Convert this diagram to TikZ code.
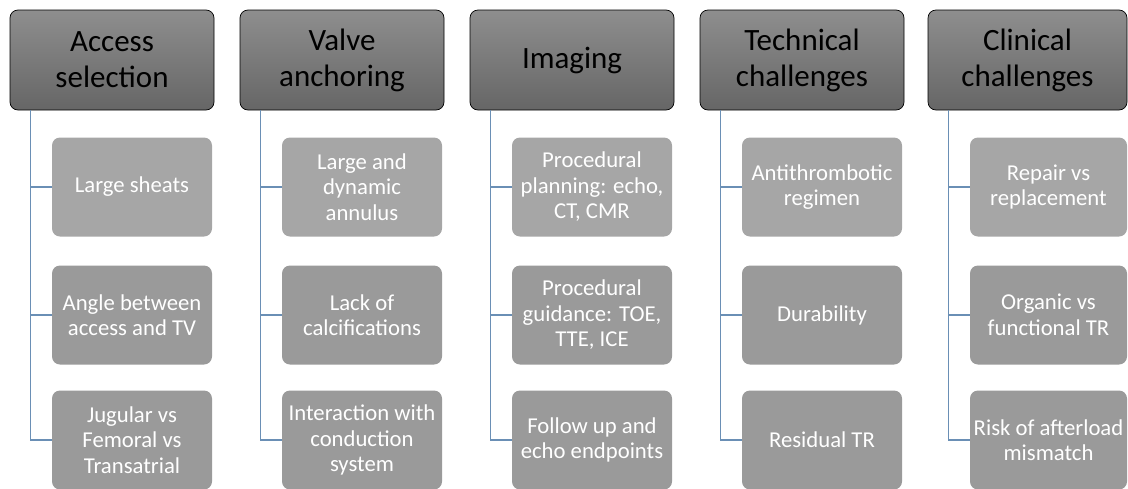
\documentclass[tikz,border=0pt]{standalone}
\usepackage{fontspec}
\setmainfont{Carlito}
\usepackage{xcolor}
\usepackage{tikz}

\definecolor{hdtop}{HTML}{8E8E8E}
\definecolor{hdbot}{HTML}{666666}
\definecolor{itlight}{HTML}{A6A6A6}
\definecolor{itdark}{HTML}{9A9A9A}
\definecolor{lnblue}{HTML}{6A8FB5}

\begin{document}
\begin{tikzpicture}[x=1pt,y=-1pt,
hd/.style={draw=black,line width=0.7pt,rounded corners=8pt,top color=hdtop,bottom color=hdbot,
minimum width=204pt,minimum height=100pt,inner sep=0pt,align=center,text=black,
font=\fontsize{31}{36}\selectfont},
it/.style={fill=itdark,rounded corners=8pt,minimum width=160pt,minimum height=99pt,
inner sep=0pt,align=center,text=white,font=\fontsize{22.7}{25.5}\selectfont},
ln/.style={draw=lnblue,line width=1.1pt}]
\useasboundingbox (0,0) rectangle (1128,488);

% access selection
\node[hd] (a) at (112,60) {Access\\selection};
\node[it,fill=itlight] (a1) at (132,187) {Large sheats};
\node[it] (a2) at (132,315) {Angle between\\access and TV};
\node[it] (a3) at (132,440) {Jugular vs\\Femoral vs\\Transatrial};

% valve anchoring
\node[hd] (b) at (342,60) {Valve\\anchoring};
\node[it,fill=itlight] (b1) at (362,187) {Large and\\dynamic\\annulus};
\node[it] (b2) at (362,315) {Lack of\\calcifications};
\node[it] (b3) at (362,440) {Interaction with\\conduction\\system};

% imaging
\node[hd] (c) at (572,60) {Imaging};
\node[it,fill=itlight] (c1) at (592,187) {Procedural\\planning: echo,\\CT, CMR};
\node[it] (c2) at (592,315) {Procedural\\guidance: TOE,\\TTE, ICE};
\node[it] (c3) at (592,440) {Follow up and\\echo endpoints};

% technical challenges
\node[hd] (d) at (802,60) {Technical\\challenges};
\node[it,fill=itlight] (d1) at (822,187) {Antithrombotic\\regimen};
\node[it] (d2) at (822,315) {Durability};
\node[it] (d3) at (822,440) {Residual TR};

% clinical challenges
\node[hd,minimum width=199pt] (e) at (1027.5,60) {Clinical\\challenges};
\node[it,fill=itlight,minimum width=157pt] (e1) at (1048.5,187) {Repair vs\\replacement};
\node[it,minimum width=157pt] (e2) at (1048.5,315) {Organic vs\\functional TR};
\node[it,minimum width=157pt] (e3) at (1048.5,440) {Risk of afterload\\mismatch};

\foreach \h in {a,b,c,d,e}{
  \draw[ln] ([xshift=21pt]\h.south west) |- (\h3.west);
  \draw[ln] (\h1.west) -- ++(-21,0);
  \draw[ln] (\h2.west) -- ++(-21,0);
}
\end{tikzpicture}
\end{document}
